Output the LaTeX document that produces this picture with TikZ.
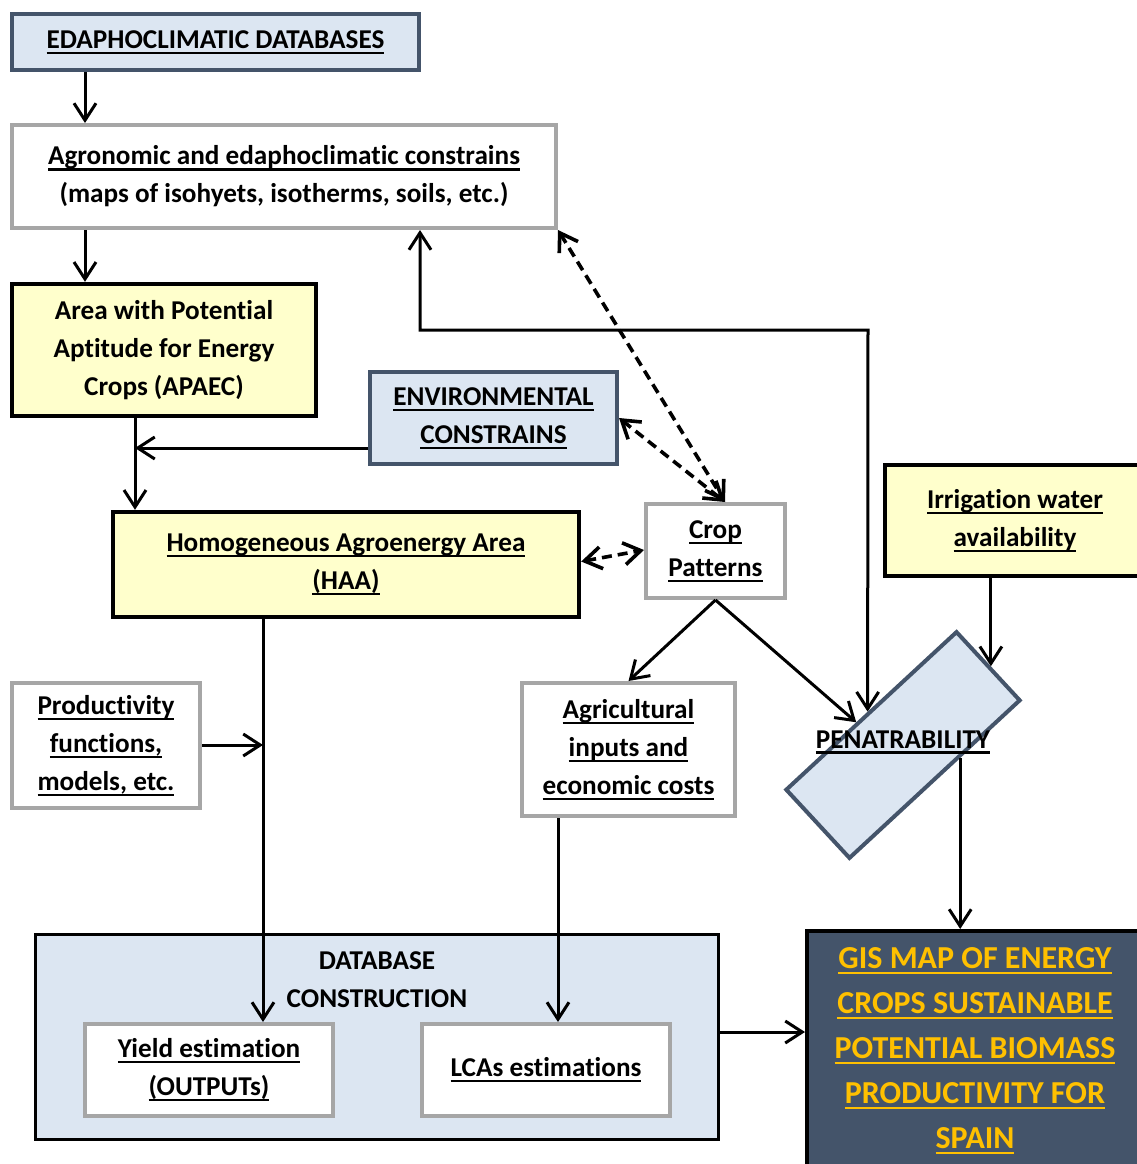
\documentclass[tikz,border=0pt]{standalone}
\usepackage{fontspec}
\setmainfont{Carlito}[Ligatures=NoCommon]
\usetikzlibrary{arrows.meta,calc}
\definecolor{bluefill}{HTML}{DCE6F2}
\definecolor{slate}{HTML}{44546A}
\definecolor{boxgray}{HTML}{A6A6A6}
\definecolor{yel}{HTML}{FFFFCC}
\definecolor{gold}{HTML}{FFC000}
\newsavebox\ulbx
\newcommand\ul[1]{\sbox\ulbx{#1}\rlap{\rule[-2.8pt]{\wd\ulbx}{1.1pt}}\usebox\ulbx}
\tikzset{
  txt/.style={font=\bfseries\fontsize{13.6}{19}\selectfont},
  box/.style={draw, line width=2pt, align=center, inner sep=0pt, txt},
  bluebox/.style={box, draw=slate, fill=bluefill},
  graybox/.style={box, draw=boxgray, fill=white},
  yelbox/.style={box, draw=black, fill=yel, line width=2.2pt},
  tip/.tip={Straight Barb[length=8.5pt,width=11pt]},
  arr/.style={line width=1.5pt, -tip},
  darr/.style={line width=1.8pt, dash pattern=on 5pt off 3pt, tip-tip},
  barr/.style={line width=1.5pt, tip-tip},
}
\begin{document}
\begin{tikzpicture}[x=0.5pt,y=-0.5pt]
\useasboundingbox (0,0) rectangle (1137,1164);
\clip (0,0) rectangle (1137,1164);

% nodes
\node[bluebox, minimum width=203.5pt, minimum height=28pt] (edb) at (215.5,42) {\ul{EDAPHOCLIMATIC DATABASES}};
\node[graybox, minimum width=272pt, minimum height=51.5pt] (agr) at (284,176.5)
  {\ul{Agronomic and edaphoclimatic constrains}\\(maps of isohyets, isotherms, soils, etc.)};
\node[yelbox, minimum width=152pt, minimum height=66pt] (apaec) at (164,350)
  {Area with Potential\\Aptitude for Energy\\Crops (APAEC)};
\node[bluebox, minimum width=123.5pt, minimum height=46pt] (env) at (493.5,418)
  {\ul{ENVIRONMENTAL}\\\ul{CONSTRAINS}};
\node[yelbox, minimum width=233pt, minimum height=52.5pt] (haa) at (346,564.5)
  {\ul{Homogeneous Agroenergy Area}\\\ul{(HAA)}};
\node[graybox, minimum width=69.5pt, minimum height=47pt] (crop) at (715.5,551)
  {\ul{Crop}\\\ul{Patterns}};
\node[yelbox, minimum width=130pt, minimum height=55.5pt] (irr) at (1015,520.5)
  {\ul{Irrigation water}\\\ul{availability}};
\node[graybox, minimum width=94pt, minimum height=62.5pt] (prod) at (106,745.5)
  {\ul{Productivity}\\\ul{functions,}\\\ul{models, etc.}};
\node[graybox, minimum width=106.5pt, minimum height=66.5pt] (agri) at (628.5,749.5)
  {\ul{Agricultural}\\\ul{inputs and}\\\ul{economic costs}};
\node[bluebox, minimum width=116pt, minimum height=46.5pt, rotate=42.8] (pen) at (903,745) {};
\node[txt, inner sep=0pt] (pentext) at (903,742) {\ul{PENATRABILITY}};
\node[box, draw=black, fill=bluefill, line width=1.5pt, minimum width=341.5pt, minimum height=102.5pt] (db) at (377,1037) {};
\node[txt, align=center, inner sep=0pt] (dbtext) at (377,980) {DATABASE\\CONSTRUCTION};
\node[graybox, minimum width=124pt, minimum height=46pt] (yield) at (209,1070)
  {\ul{Yield estimation}\\\ul{(OUTPUTs)}};
\node[graybox, minimum width=124pt, minimum height=46pt] (lca) at (546,1070)
  {\ul{LCAs estimations}};
\node[box, draw=black, fill=slate, text=gold, minimum width=168pt, minimum height=120pt,
  font=\bfseries\fontsize{16}{22.5}\selectfont] (gis) at (975,1051)
  {\ul{GIS MAP OF ENERGY}\\\ul{CROPS SUSTAINABLE}\\\ul{POTENTIAL BIOMASS}\\\ul{PRODUCTIVITY FOR}\\\ul{SPAIN}};

% helper coordinates
\coordinate (x85) at (85,0);
\coordinate (x135) at (135,0);
\coordinate (j1) at (135,448);
\coordinate (x420) at (420,0);
\coordinate (loop) at (868,330);
\coordinate (penA) at ($(pen.north west)!0.486!(pen.north east)$);
\coordinate (penB) at ($(pen.north west)!0.42!(pen.north east)$);
\coordinate (penC) at ($(pen.north east)!0.52!(pen.south east)$);
\coordinate (penD) at ($(pen.south west)!0.64!(pen.south east)$);
\coordinate (x263) at (263,0);
\coordinate (j2) at (263,745);
\coordinate (x558) at (558,0);
\coordinate (y1032) at (0,1032);

% connectors
\draw[arr] (edb.south -| x85) -- (agr.north -| x85);
\draw[arr] (agr.south -| x85) -- (apaec.north -| x85);
\draw[arr] (apaec.south -| x135) -- (haa.north -| x135);
\draw[arr] (j1 -| env.west) -- (j1);
\draw[darr] (agr.south east) -- (crop.79);
\draw[darr] (env.east) -- (crop.79);
\draw[darr] ([yshift=1.5pt]haa.east) -- ([yshift=0.5pt]crop.west);
\draw[barr] (agr.south -| x420) |- (loop) -- (penA);
\draw[arr] (crop.south) -- (agri.north);
\draw[arr] (crop.south) -- (penB);
\draw[arr] (irr.south -| penC) -- (penC);
\draw[arr] (penD) -- (penD |- gis.north);
\draw[arr] (haa.south -| x263) -- (yield.north -| x263);
\draw[arr] (j2 -| prod.east) -- (j2);
\draw[arr] (agri.south -| x558) -- (lca.north -| x558);
\draw[arr] (db.east |- y1032) -- (gis.west |- y1032);
\end{tikzpicture}
\end{document}
